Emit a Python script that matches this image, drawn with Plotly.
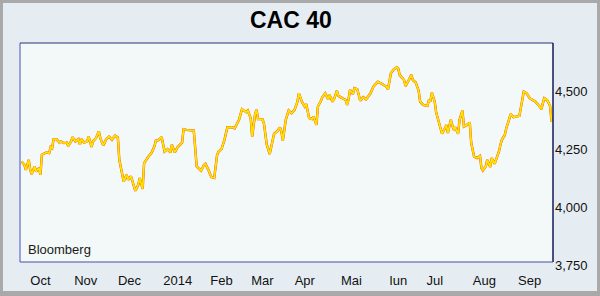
import plotly.graph_objects as go

# ---- data ----
dates = [
    "2013-09-27", "2013-09-29", "2013-09-30", "2013-10-02", "2013-10-03", "2013-10-04",
    "2013-10-06", "2013-10-07", "2013-10-09", "2013-10-10", "2013-10-11", "2013-10-14",
    "2013-10-16", "2013-10-17", "2013-10-18", "2013-10-19", "2013-10-21", "2013-10-23",
    "2013-10-24", "2013-10-26", "2013-10-28", "2013-10-29", "2013-10-31", "2013-11-01",
    "2013-11-03", "2013-11-05", "2013-11-06", "2013-11-07", "2013-11-09", "2013-11-11",
    "2013-11-12", "2013-11-14", "2013-11-15", "2013-11-17", "2013-11-19", "2013-11-20",
    "2013-11-22", "2013-11-24", "2013-11-26", "2013-11-28", "2013-11-30", "2013-12-02",
    "2013-12-03", "2013-12-05", "2013-12-06", "2013-12-08", "2013-12-09", "2013-12-11",
    "2013-12-13", "2013-12-14", "2013-12-16", "2013-12-17", "2013-12-19", "2013-12-20",
    "2013-12-23", "2013-12-25", "2013-12-27", "2013-12-28", "2013-12-30", "2014-01-01",
    "2014-01-03", "2014-01-05", "2014-01-07", "2014-01-08", "2014-01-10", "2014-01-12",
    "2014-01-15", "2014-01-16", "2014-01-18", "2014-01-20", "2014-01-23", "2014-01-25",
    "2014-01-27", "2014-01-28", "2014-01-30", "2014-01-31", "2014-02-02", "2014-02-04",
    "2014-02-06", "2014-02-08", "2014-02-09", "2014-02-11", "2014-02-13", "2014-02-15",
    "2014-02-18", "2014-02-20", "2014-02-23", "2014-02-25", "2014-02-28", "2014-03-01",
    "2014-03-03", "2014-03-04", "2014-03-06", "2014-03-07", "2014-03-08", "2014-03-11",
    "2014-03-12", "2014-03-14", "2014-03-16", "2014-03-17", "2014-03-19", "2014-03-21",
    "2014-03-23", "2014-03-24", "2014-03-25", "2014-03-27", "2014-03-28", "2014-03-29",
    "2014-03-31", "2014-04-02", "2014-04-04", "2014-04-05", "2014-04-07", "2014-04-09",
    "2014-04-10", "2014-04-12", "2014-04-14", "2014-04-15", "2014-04-17", "2014-04-18",
    "2014-04-20", "2014-04-21", "2014-04-23", "2014-04-25", "2014-04-26", "2014-04-28",
    "2014-04-29", "2014-05-01", "2014-05-02", "2014-05-05", "2014-05-07", "2014-05-08",
    "2014-05-09", "2014-05-10", "2014-05-12", "2014-05-13", "2014-05-15", "2014-05-17",
    "2014-05-19", "2014-05-21", "2014-05-24", "2014-05-26", "2014-05-29", "2014-06-01",
    "2014-06-04", "2014-06-05", "2014-06-07", "2014-06-09", "2014-06-11", "2014-06-12",
    "2014-06-13", "2014-06-16", "2014-06-17", "2014-06-19", "2014-06-21", "2014-06-22",
    "2014-06-24", "2014-06-26", "2014-06-27", "2014-06-29", "2014-07-02", "2014-07-03",
    "2014-07-04", "2014-07-05", "2014-07-07", "2014-07-08", "2014-07-10", "2014-07-12",
    "2014-07-14", "2014-07-15", "2014-07-16", "2014-07-18", "2014-07-20", "2014-07-21",
    "2014-07-23", "2014-07-24", "2014-07-26", "2014-07-27", "2014-07-29", "2014-07-31",
    "2014-08-01", "2014-08-03", "2014-08-05", "2014-08-07", "2014-08-08", "2014-08-09",
    "2014-08-11", "2014-08-12", "2014-08-14", "2014-08-15", "2014-08-17", "2014-08-19",
    "2014-08-20", "2014-08-21", "2014-08-22", "2014-08-24", "2014-08-25", "2014-08-27",
    "2014-08-28", "2014-08-30", "2014-09-01", "2014-09-03", "2014-09-06", "2014-09-08",
    "2014-09-10", "2014-09-14", "2014-09-16", "2014-09-18", "2014-09-20", "2014-09-22",
    "2014-09-24", "2014-09-25",
]

cac40 = [
    4197, 4183, 4161, 4204, 4161, 4143, 4176, 4154, 4169, 4140, 4226, 4236,
    4233, 4259, 4254, 4293, 4293, 4278, 4283, 4276, 4278, 4264, 4283, 4302,
    4283, 4293, 4269, 4293, 4278, 4283, 4304, 4259, 4283, 4297, 4326, 4297,
    4266, 4293, 4304, 4290, 4308, 4300, 4204, 4147, 4111, 4140, 4119, 4133,
    4097, 4071, 4097, 4126, 4079, 4190, 4218, 4233, 4261, 4286, 4290, 4302,
    4240, 4250, 4236, 4269, 4236, 4259, 4278, 4336, 4333, 4333, 4330, 4176,
    4161, 4157, 4183, 4187, 4161, 4130, 4126, 4226, 4240, 4250, 4290, 4344,
    4344, 4340, 4376, 4422, 4409, 4416, 4383, 4304, 4401, 4419, 4379, 4379,
    4362, 4269, 4229, 4261, 4316, 4326, 4343, 4326, 4287, 4376, 4397, 4416,
    4404, 4419, 4454, 4490, 4454, 4433, 4444, 4383, 4379, 4390, 4354, 4433,
    4457, 4473, 4490, 4464, 4483, 4454, 4464, 4501, 4479, 4469, 4461, 4440,
    4464, 4504, 4487, 4512, 4507, 4458, 4473, 4464, 4490, 4518, 4540, 4530,
    4518, 4507, 4576, 4593, 4602, 4597, 4569, 4547, 4521, 4544, 4569, 4547,
    4536, 4501, 4454, 4440, 4436, 4461, 4454, 4493, 4454, 4407, 4362, 4316,
    4340, 4354, 4319, 4376, 4333, 4344, 4316, 4376, 4416, 4347, 4354, 4364,
    4276, 4218, 4212, 4221, 4169, 4158, 4176, 4204, 4173, 4212, 4187, 4218,
    4240, 4269, 4290, 4311, 4340, 4379, 4401, 4387, 4390, 4393, 4497, 4490,
    4469, 4454, 4440, 4422, 4469, 4461, 4436, 4368,
]

month_ticks = ["2013-10-10", "2013-11-10", "2013-12-10", "2014-01-12", "2014-02-11",
               "2014-03-11", "2014-04-09", "2014-05-11", "2014-06-12", "2014-07-07",
               "2014-08-10", "2014-09-10"]
month_labels = ["Oct", "Nov", "Dec", "2014", "Feb", "Mar", "Apr", "Mai", "Iun", "Jul",
                "Aug", "Sep"]
y_ticks = [3750, 4000, 4250, 4500]

# ---- layout geometry (pixels) ----
W, H = 600, 296
PL, PR, PT, PB = 20, 553, 43, 266   # axis area (y domain extends to the 3,750 label)
FRAME_BOTTOM = 262


def px(x):
    return (x - PL) / (PR - PL)


def py(y):
    return (PB - y) / (PB - PT)


FONT = "Liberation Sans, Arial, sans-serif"

fig = go.Figure()
fig.add_trace(go.Scatter(x=dates, y=cac40, mode="lines",
                         line=dict(color="#e8420c", width=2.4), hoverinfo="skip",
                         showlegend=False))
fig.add_trace(go.Scatter(x=dates, y=cac40, mode="lines",
                         line=dict(color="#ffe200", width=1.9), showlegend=False))

shapes = [
    # plot panel
    dict(type="rect", xref="paper", yref="paper", x0=0, x1=1, y0=py(FRAME_BOTTOM), y1=1,
         fillcolor="#f2f9f8", line=dict(width=0), layer="below"),
    # frame lines
    dict(type="line", xref="paper", yref="paper", x0=0, x1=0, y0=py(FRAME_BOTTOM), y1=1,
         line=dict(color="#7c86d8", width=1.5)),
    dict(type="line", xref="paper", yref="paper", x0=0, x1=1, y0=1, y1=1,
         line=dict(color="#2e3278", width=1.2)),
    dict(type="line", xref="paper", yref="paper", x0=1, x1=1, y0=py(FRAME_BOTTOM), y1=1,
         line=dict(color="#14185a", width=1.5)),
    dict(type="line", xref="paper", yref="paper", x0=0, x1=1, y0=py(FRAME_BOTTOM),
         y1=py(FRAME_BOTTOM), line=dict(color="#4a4ea8", width=1.2)),
    # outer grey border
    dict(type="rect", xref="paper", yref="paper", x0=px(0), x1=px(3), y0=py(H), y1=py(0),
         fillcolor="#a9a9a9", line=dict(width=0)),
    dict(type="rect", xref="paper", yref="paper", x0=px(597), x1=px(W), y0=py(H), y1=py(0),
         fillcolor="#a9a9a9", line=dict(width=0)),
    dict(type="rect", xref="paper", yref="paper", x0=px(0), x1=px(W), y0=py(3), y1=py(0),
         fillcolor="#a9a9a9", line=dict(width=0)),
    dict(type="rect", xref="paper", yref="paper", x0=px(0), x1=px(W), y0=py(H), y1=py(291),
         fillcolor="#a9a9a9", line=dict(width=0)),
]

annotations = [
    dict(text="<b>CAC 40</b>", xref="paper", yref="paper", x=px(291), y=py(20),
         xanchor="center", yanchor="middle", showarrow=False,
         font=dict(family=FONT, size=23, color="#000000")),
    dict(text="Bloomberg", xref="paper", yref="paper", x=px(26), y=py(249),
         xanchor="left", yanchor="middle", showarrow=False,
         font=dict(family=FONT, size=13, color="#1a1a1a")),
]

fig.update_layout(
    width=W, height=H,
    margin=dict(l=PL, r=W - PR, t=PT, b=H - PB, pad=0, autoexpand=False),
    paper_bgcolor="#e6edf2",
    plot_bgcolor="rgba(0,0,0,0)",
    shapes=shapes,
    annotations=annotations,
    showlegend=False,
    xaxis=dict(type="date", range=["2013-09-26", "2014-09-26"], automargin=False,
               tickmode="array", tickvals=month_ticks, ticktext=month_labels,
               showgrid=False, zeroline=False, showline=False, ticks="",
               tickfont=dict(family=FONT, size=13, color="#111111"),
               ticklabelstandoff=5),
    yaxis=dict(range=[3748, 4706], side="right", tickmode="array", tickvals=y_ticks,
               automargin=False,
               tickformat=",", showgrid=False, zeroline=False, showline=False, ticks="",
               tickfont=dict(family=FONT, size=13, color="#111111"),
               ticklabelstandoff=1),
)

fig.write_html("out.html")
